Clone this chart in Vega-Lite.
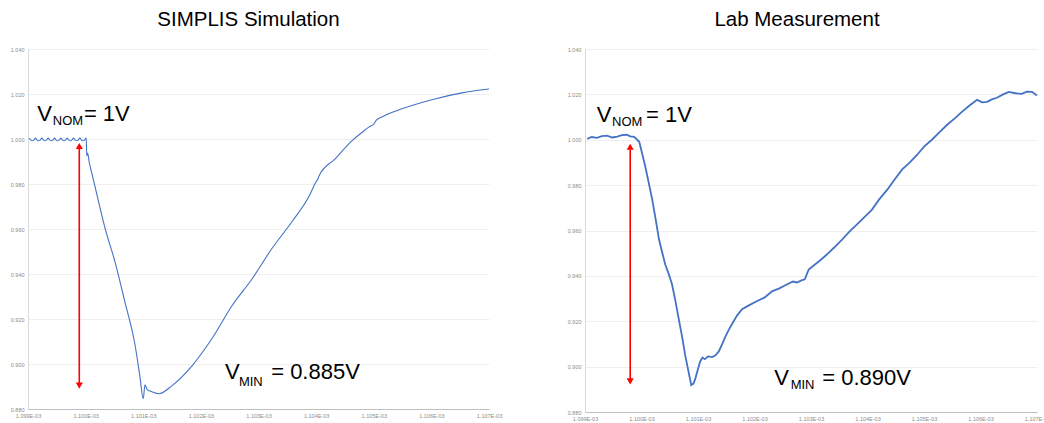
{
  "$schema": "https://vega.github.io/schema/vega-lite/v6.json",
  "background": "white",
  "padding": {"left": 10, "top": 10, "right": 0, "bottom": 0},
  "config": {
    "font": "Liberation Sans",
    "view": {"stroke": null},
    "concat": {"spacing": 65},
    "axis": {"labelFontSize": 5.5, "labelColor": "#8c8c8c", "ticks": false, "title": null, "gridColor": "#efefef", "domainColor": "#d9d9d9", "labelPadding": 4},
    "title": {"fontSize": 20.5, "fontWeight": "normal", "color": "#000000", "offset": 16.5, "font": "Liberation Sans"}
  },
  "datasets": {
    "sim": [
      {"t": 1.099020, "v": 1.0004}, {"t": 1.099050, "v": 0.9995}, {"t": 1.099075, "v": 0.9992}, {"t": 1.099100, "v": 0.9995},
      {"t": 1.099130, "v": 1.0004}, {"t": 1.099160, "v": 0.9995}, {"t": 1.099185, "v": 0.9992}, {"t": 1.099210, "v": 0.9995},
      {"t": 1.099240, "v": 1.0004}, {"t": 1.099270, "v": 0.9995}, {"t": 1.099295, "v": 0.9992}, {"t": 1.099320, "v": 0.9995},
      {"t": 1.099350, "v": 1.0004}, {"t": 1.099380, "v": 0.9995}, {"t": 1.099405, "v": 0.9992}, {"t": 1.099430, "v": 0.9995},
      {"t": 1.099460, "v": 1.0004}, {"t": 1.099490, "v": 0.9995}, {"t": 1.099515, "v": 0.9992}, {"t": 1.099540, "v": 0.9995},
      {"t": 1.099570, "v": 1.0004}, {"t": 1.099600, "v": 0.9995}, {"t": 1.099625, "v": 0.9992}, {"t": 1.099650, "v": 0.9995},
      {"t": 1.099680, "v": 1.0004}, {"t": 1.099710, "v": 0.9995}, {"t": 1.099735, "v": 0.9992}, {"t": 1.099760, "v": 0.9995},
      {"t": 1.099790, "v": 1.0004}, {"t": 1.099820, "v": 0.9995}, {"t": 1.099845, "v": 0.9992}, {"t": 1.099870, "v": 0.9995},
      {"t": 1.099900, "v": 1.0004}, {"t": 1.099930, "v": 0.9995}, {"t": 1.099955, "v": 0.9992}, {"t": 1.099980, "v": 0.9995},
      {"t": 1.100010, "v": 1.0004}, {"t": 1.100020, "v": 0.9925}, {"t": 1.100035, "v": 0.9938}, {"t": 1.100060, "v": 0.9900},
      {"t": 1.100110, "v": 0.9845}, {"t": 1.100160, "v": 0.9792}, {"t": 1.100340, "v": 0.9601}, {"t": 1.100510, "v": 0.9454},
      {"t": 1.100680, "v": 0.9277}, {"t": 1.100860, "v": 0.9081}, {"t": 1.100940, "v": 0.8948}, {"t": 1.101000, "v": 0.8846},
      {"t": 1.101030, "v": 0.8908}, {"t": 1.101070, "v": 0.8886}, {"t": 1.101150, "v": 0.8877}, {"t": 1.101270, "v": 0.8868},
      {"t": 1.101500, "v": 0.8904}, {"t": 1.101850, "v": 0.8993}, {"t": 1.102190, "v": 0.9112}, {"t": 1.102540, "v": 0.9259},
      {"t": 1.102890, "v": 0.9379}, {"t": 1.103230, "v": 0.9512}, {"t": 1.103580, "v": 0.9632}, {"t": 1.103880, "v": 0.9747},
      {"t": 1.104000, "v": 0.9810}, {"t": 1.104030, "v": 0.9822}, {"t": 1.104050, "v": 0.9836}, {"t": 1.104330, "v": 0.9912},
      {"t": 1.104620, "v": 0.9992}, {"t": 1.104800, "v": 1.0030}, {"t": 1.104920, "v": 1.0054}, {"t": 1.105000, "v": 1.0066},
      {"t": 1.105050, "v": 1.0085}, {"t": 1.105140, "v": 1.0098}, {"t": 1.105490, "v": 1.0134}, {"t": 1.106060, "v": 1.0178},
      {"t": 1.106530, "v": 1.0205}, {"t": 1.107000, "v": 1.0222}
    ],
    "lab": [
      {"t": 1.09904, "v": 1.0004}, {"t": 1.09912, "v": 1.0012}, {"t": 1.09921, "v": 1.0008}, {"t": 1.09930, "v": 1.0016},
      {"t": 1.09939, "v": 1.0018}, {"t": 1.09948, "v": 1.0010}, {"t": 1.09957, "v": 1.0014}, {"t": 1.09965, "v": 1.0020},
      {"t": 1.09974, "v": 1.0022}, {"t": 1.09980, "v": 1.0015}, {"t": 1.09987, "v": 1.0013}, {"t": 1.09996, "v": 0.9991},
      {"t": 1.10006, "v": 0.9890}, {"t": 1.10012, "v": 0.9820}, {"t": 1.10019, "v": 0.9736}, {"t": 1.10025, "v": 0.9650},
      {"t": 1.10031, "v": 0.9560}, {"t": 1.10037, "v": 0.9500}, {"t": 1.10042, "v": 0.9450}, {"t": 1.10048, "v": 0.9410},
      {"t": 1.10054, "v": 0.9363}, {"t": 1.10060, "v": 0.9290}, {"t": 1.10066, "v": 0.9209}, {"t": 1.10072, "v": 0.9130},
      {"t": 1.10077, "v": 0.9055}, {"t": 1.10083, "v": 0.8980}, {"t": 1.10088, "v": 0.8919}, {"t": 1.10092, "v": 0.8925},
      {"t": 1.10095, "v": 0.8945}, {"t": 1.10100, "v": 0.8990}, {"t": 1.10104, "v": 0.9024}, {"t": 1.10108, "v": 0.9040},
      {"t": 1.10112, "v": 0.9033}, {"t": 1.10118, "v": 0.9045}, {"t": 1.10125, "v": 0.9042}, {"t": 1.10131, "v": 0.9050},
      {"t": 1.10137, "v": 0.9068}, {"t": 1.10143, "v": 0.9100}, {"t": 1.10148, "v": 0.9130}, {"t": 1.10154, "v": 0.9160},
      {"t": 1.10160, "v": 0.9187}, {"t": 1.10169, "v": 0.9225}, {"t": 1.10178, "v": 0.9253}, {"t": 1.10190, "v": 0.9270},
      {"t": 1.10204, "v": 0.9288}, {"t": 1.10218, "v": 0.9305}, {"t": 1.10231, "v": 0.9332}, {"t": 1.10244, "v": 0.9345},
      {"t": 1.10258, "v": 0.9363}, {"t": 1.10268, "v": 0.9375}, {"t": 1.10275, "v": 0.9371}, {"t": 1.10283, "v": 0.9380},
      {"t": 1.10289, "v": 0.9385}, {"t": 1.10293, "v": 0.9410}, {"t": 1.10296, "v": 0.9428}, {"t": 1.10302, "v": 0.9440},
      {"t": 1.10307, "v": 0.9450}, {"t": 1.10318, "v": 0.9472}, {"t": 1.10328, "v": 0.9494}, {"t": 1.10341, "v": 0.9525},
      {"t": 1.10355, "v": 0.9560}, {"t": 1.10368, "v": 0.9595}, {"t": 1.10381, "v": 0.9626}, {"t": 1.10395, "v": 0.9660},
      {"t": 1.10408, "v": 0.9692}, {"t": 1.10420, "v": 0.9735}, {"t": 1.10435, "v": 0.9780}, {"t": 1.10448, "v": 0.9825},
      {"t": 1.10461, "v": 0.9868}, {"t": 1.10475, "v": 0.9900}, {"t": 1.10488, "v": 0.9934}, {"t": 1.10500, "v": 0.9970},
      {"t": 1.10514, "v": 1.0000}, {"t": 1.10528, "v": 1.0035}, {"t": 1.10541, "v": 1.0066}, {"t": 1.10555, "v": 1.0095},
      {"t": 1.10567, "v": 1.0123}, {"t": 1.10580, "v": 1.0150}, {"t": 1.10594, "v": 1.0176}, {"t": 1.10603, "v": 1.0165},
      {"t": 1.10612, "v": 1.0167}, {"t": 1.10620, "v": 1.0178}, {"t": 1.10629, "v": 1.0185}, {"t": 1.10640, "v": 1.0200},
      {"t": 1.10650, "v": 1.0211}, {"t": 1.10662, "v": 1.0205}, {"t": 1.10673, "v": 1.0202}, {"t": 1.10682, "v": 1.0212},
      {"t": 1.10691, "v": 1.0211}, {"t": 1.10700, "v": 1.0195}
    ],
    "arrows": [
      {"panel": "sim", "t": 1.09989, "top": 0.9969, "bottom": 0.8904},
      {"panel": "lab", "t": 1.09980, "top": 0.9969, "bottom": 0.8935}
    ],
    "notes": [
      {"panel": "sim", "part": "big", "txt": "V", "t": 1.09916, "v": 1.0080},
      {"panel": "sim", "part": "sub", "txt": "NOM", "t": 1.09943, "v": 1.0062},
      {"panel": "sim", "part": "big", "txt": "= 1V", "t": 1.09997, "v": 1.0080},
      {"panel": "sim", "part": "big", "txt": "V", "t": 1.10242, "v": 0.8935},
      {"panel": "sim", "part": "sub", "txt": "MIN", "t": 1.10266, "v": 0.8904},
      {"panel": "sim", "part": "big", "txt": "= 0.885V", "t": 1.10322, "v": 0.8935},
      {"panel": "lab", "part": "big", "txt": "V", "t": 1.09921, "v": 1.0079},
      {"panel": "lab", "part": "sub", "txt": "NOM", "t": 1.09948, "v": 1.0062},
      {"panel": "lab", "part": "big", "txt": "= 1V", "t": 1.10008, "v": 1.0079},
      {"panel": "lab", "part": "big", "txt": "V", "t": 1.10235, "v": 0.8919},
      {"panel": "lab", "part": "sub", "txt": "MIN", "t": 1.10264, "v": 0.8901},
      {"panel": "lab", "part": "big", "txt": "= 0.890V", "t": 1.10320, "v": 0.8919}
    ]
  },
  "hconcat": [
    {
      "width": 461,
      "height": 360,
      "title": {"text": "SIMPLIS Simulation", "dx": -10},
      "encoding": {
        "x": {"field": "t", "type": "quantitative",
          "scale": {"domain": [1.099, 1.107], "nice": false, "zero": false},
          "axis": {"values": [1.099, 1.1, 1.101, 1.102, 1.103, 1.104, 1.105, 1.106, 1.107], "labelExpr": "format(datum.value, '.3f') + 'E-03'", "grid": false, "domainColor": "#bfbfbf", "labelFlush": false}}
      },
      "layer": [
        {
          "data": {"name": "sim"},
          "mark": {"type": "line", "color": "#4472C4", "strokeWidth": 1.1, "interpolate": "monotone"},
          "encoding": {
            "y": {"field": "v", "type": "quantitative",
              "scale": {"domain": [0.88, 1.04], "nice": false, "zero": false},
              "axis": {"values": [0.88, 0.9, 0.92, 0.94, 0.96, 0.98, 1.0, 1.02, 1.04], "format": ".3f", "grid": true}}
          }
        },
        {
          "data": {"name": "arrows"},
          "transform": [{"filter": "datum.panel === 'sim'"}],
          "mark": {"type": "rule", "color": "#ff0000", "strokeWidth": 1.6},
          "encoding": {"y": {"field": "bottom", "type": "quantitative"}, "y2": {"field": "top"}}
        },
        {
          "data": {"name": "arrows"},
          "transform": [{"filter": "datum.panel === 'sim'"}],
          "mark": {"type": "point", "shape": "triangle-up", "filled": true, "color": "#ff0000", "size": 50, "opacity": 1},
          "encoding": {"y": {"field": "top", "type": "quantitative"}}
        },
        {
          "data": {"name": "arrows"},
          "transform": [{"filter": "datum.panel === 'sim'"}],
          "mark": {"type": "point", "shape": "triangle-down", "filled": true, "color": "#ff0000", "size": 50, "opacity": 1},
          "encoding": {"y": {"field": "bottom", "type": "quantitative"}}
        },
        {
          "data": {"name": "notes"},
          "transform": [{"filter": "datum.panel === 'sim' && datum.part === 'big'"}],
          "mark": {"type": "text", "align": "left", "baseline": "alphabetic", "fontSize": 22, "color": "#000000"},
          "encoding": {"y": {"field": "v", "type": "quantitative"}, "text": {"field": "txt"}}
        },
        {
          "data": {"name": "notes"},
          "transform": [{"filter": "datum.panel === 'sim' && datum.part === 'sub'"}],
          "mark": {"type": "text", "align": "left", "baseline": "alphabetic", "fontSize": 13, "color": "#000000"},
          "encoding": {"y": {"field": "v", "type": "quantitative"}, "text": {"field": "txt"}}
        }
      ]
    },
    {
      "width": 452,
      "height": 363,
      "title": {"text": "Lab Measurement", "dx": -14},
      "encoding": {
        "x": {"field": "t", "type": "quantitative",
          "scale": {"domain": [1.099, 1.107], "nice": false, "zero": false},
          "axis": {"values": [1.099, 1.1, 1.101, 1.102, 1.103, 1.104, 1.105, 1.106, 1.107], "labelExpr": "format(datum.value, '.3f') + 'E-03'", "grid": false, "domainColor": "#bfbfbf", "labelFlush": false}}
      },
      "layer": [
        {
          "data": {"name": "lab"},
          "mark": {"type": "line", "color": "#4472C4", "strokeWidth": 1.8},
          "encoding": {
            "y": {"field": "v", "type": "quantitative",
              "scale": {"domain": [0.88, 1.04], "nice": false, "zero": false},
              "axis": {"values": [0.88, 0.9, 0.92, 0.94, 0.96, 0.98, 1.0, 1.02, 1.04], "format": ".3f", "grid": true}}
          }
        },
        {
          "data": {"name": "arrows"},
          "transform": [{"filter": "datum.panel === 'lab'"}],
          "mark": {"type": "rule", "color": "#ff0000", "strokeWidth": 1.6},
          "encoding": {"y": {"field": "bottom", "type": "quantitative"}, "y2": {"field": "top"}}
        },
        {
          "data": {"name": "arrows"},
          "transform": [{"filter": "datum.panel === 'lab'"}],
          "mark": {"type": "point", "shape": "triangle-up", "filled": true, "color": "#ff0000", "size": 50, "opacity": 1},
          "encoding": {"y": {"field": "top", "type": "quantitative"}}
        },
        {
          "data": {"name": "arrows"},
          "transform": [{"filter": "datum.panel === 'lab'"}],
          "mark": {"type": "point", "shape": "triangle-down", "filled": true, "color": "#ff0000", "size": 50, "opacity": 1},
          "encoding": {"y": {"field": "bottom", "type": "quantitative"}}
        },
        {
          "data": {"name": "notes"},
          "transform": [{"filter": "datum.panel === 'lab' && datum.part === 'big'"}],
          "mark": {"type": "text", "align": "left", "baseline": "alphabetic", "fontSize": 22, "color": "#000000"},
          "encoding": {"y": {"field": "v", "type": "quantitative"}, "text": {"field": "txt"}}
        },
        {
          "data": {"name": "notes"},
          "transform": [{"filter": "datum.panel === 'lab' && datum.part === 'sub'"}],
          "mark": {"type": "text", "align": "left", "baseline": "alphabetic", "fontSize": 13, "color": "#000000"},
          "encoding": {"y": {"field": "v", "type": "quantitative"}, "text": {"field": "txt"}}
        }
      ]
    }
  ]
}
